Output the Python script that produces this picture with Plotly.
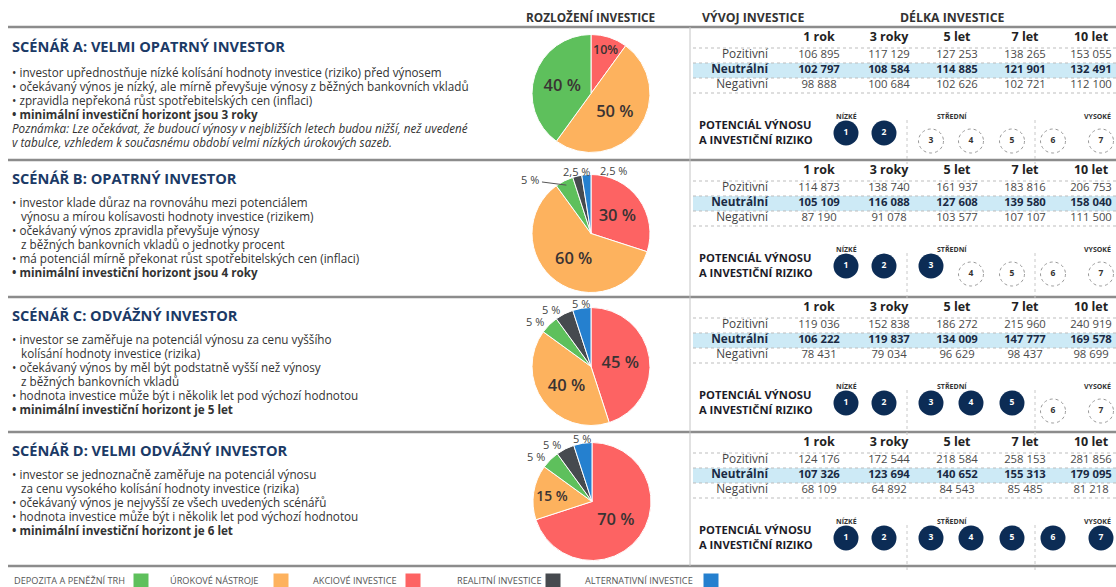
import math
import plotly.graph_objects as go

W, H = 1116, 587

# ------------------------------------------------------------------ data
asset_classes = ["DEPOZITA A PENĚŽNÍ TRH", "ÚROKOVÉ NÁSTROJE", "AKCIOVÉ INVESTICE",
                 "REALITNÍ INVESTICE", "ALTERNATIVNÍ INVESTICE"]
asset_colors = ["#5ec05c", "#fdb25e", "#fd6363", "#464a4f", "#2580cf"]
# slice order clockwise from 12 o'clock: akciové, úrokové, depozita, realitní, alternativní
pie_order = [2, 1, 0, 3, 4]

alloc_A = [40, 50, 10, 0, 0]
alloc_B = [5, 60, 30, 2.5, 2.5]
alloc_C = [5, 40, 45, 5, 5]
alloc_D = [5, 15, 70, 5, 5]

scenario_titles = ["SCÉNÁŘ A: VELMI OPATRNÝ INVESTOR", "SCÉNÁŘ B: OPATRNÝ INVESTOR",
                   "SCÉNÁŘ C: ODVÁŽNÝ INVESTOR", "SCÉNÁŘ D: VELMI ODVÁŽNÝ INVESTOR"]

bullets_A = ["• investor upřednostňuje nízké kolísání hodnoty investice (riziko) před výnosem",
             "• očekávaný výnos je nízký, ale mírně převyšuje výnosy z běžných bankovních vkladů",
             "• zpravidla nepřekoná růst spotřebitelských cen (inflaci)",
             "<b>• minimální investiční horizont jsou 3 roky</b>",
             "<i>Poznámka: Lze očekávat, že budoucí výnosy v nejbližších letech budou nižší, než uvedené</i>",
             "<i>v tabulce, vzhledem k současnému období velmi nízkých úrokových sazeb.</i>"]
bullets_B = ["• investor klade důraz na rovnováhu mezi potenciálem",
             "   výnosu a mírou kolísavosti hodnoty investice (rizikem)",
             "• očekávaný výnos zpravidla převyšuje výnosy",
             "   z běžných bankovních vkladů o jednotky procent",
             "• má potenciál mírně překonat růst spotřebitelských cen (inflaci)",
             "<b>• minimální investiční horizont jsou 4 roky</b>"]
bullets_C = ["• investor se zaměřuje na potenciál výnosu za cenu vyššího",
             "   kolísání hodnoty investice (rizika)",
             "• očekávaný výnos by měl být podstatně vyšší než výnosy",
             "   z běžných bankovních vkladů",
             "• hodnota investice může být i několik let pod výchozí hodnotou",
             "<b>• minimální investiční horizont je 5 let</b>"]
bullets_D = ["• investor se jednoznačně zaměřuje na potenciál výnosu",
             "   za cenu vysokého kolísání hodnoty investice (rizika)",
             "• očekávaný výnos je nejvyšší ze všech uvedených scénářů",
             "• hodnota investice může být i několik let pod výchozí hodnotou",
             "<b>• minimální investiční horizont je 6 let</b>"]

durations = ["1 rok", "3 roky", "5 let", "7 let", "10 let"]
row_labels = ["Pozitivní", "Neutrální", "Negativní"]

pos_A = [106895, 117129, 127253, 138265, 153055]
neu_A = [102797, 108584, 114885, 121901, 132491]
neg_A = [98888, 100684, 102626, 102721, 112100]
pos_B = [114873, 138740, 161937, 183816, 206753]
neu_B = [105109, 116088, 127608, 139580, 158040]
neg_B = [87190, 91078, 103577, 107107, 111500]
pos_C = [119036, 152838, 186272, 215960, 240919]
neu_C = [106222, 119837, 134009, 147777, 169578]
neg_C = [78431, 79034, 96629, 98437, 98699]
pos_D = [124176, 172544, 218584, 258153, 281856]
neu_D = [107326, 123694, 140652, 155313, 179095]
neg_D = [68109, 64892, 84543, 85485, 81218]

risk_scale = [1, 2, 3, 4, 5, 6, 7]
risk_groups = ["NÍZKÉ", "STŘEDNÍ", "VYSOKÉ"]
risk_A, risk_B, risk_C, risk_D = 2, 3, 5, 7

header_left = "ROZLOŽENÍ INVESTICE"
header_mid = "VÝVOJ INVESTICE"
header_right = "DÉLKA INVESTICE"
risk_label = "POTENCIÁL VÝNOSU<br>A INVESTIČNÍ RIZIKO"

# ------------------------------------------------------------------ layout positions (px)
sec_tops = [27, 160, 297, 432]
sec_bottom = 566
title_y = [46, 178, 315, 450]
bullet_y0 = [72, 202, 339, 474]
bullet_dy = 13.9
pie_centers = [(591, 93.5), (591, 233.5), (591, 366.5), (592, 501.5)]
pie_d = 118
col_x = [819, 889, 957, 1025, 1091]
risk_x = [846, 884, 931, 971, 1012, 1053, 1101]
group_x = [846, 952, 1113]
group_sep_x = [907, 1035]
# nudges for small outside pie labels: (scenario, slice position) -> (dx, dy, anchor)
label_nudge = {(1, 2): (-21, 3.5, "right"), (1, 4): (12, 1, "left")}
leader_lines = {(1, 2)}

NAVY = "#1b3a66"
DARK = "#0c2c55"
TXT = "#333333"
FONT = "Open Sans"

scen_alloc = [alloc_A, alloc_B, alloc_C, alloc_D]
scen_bullets = [bullets_A, bullets_B, bullets_C, bullets_D]
scen_table = [(pos_A, neu_A, neg_A), (pos_B, neu_B, neg_B),
              (pos_C, neu_C, neg_C), (pos_D, neu_D, neg_D)]
scen_risk = [risk_A, risk_B, risk_C, risk_D]


def fmt_num(v):
    return f"{v:,}".replace(",", "\u00a0")


def fmt_pct(v):
    return f"{v:g}".replace(".", ",") + "\u00a0%"


fig = go.Figure()
shapes = []
annotations = []

# header texts
annotations += [
    dict(x=590, y=17, text=f"<b>{header_left}</b>", xanchor="center", font=dict(size=11.8, color=TXT)),
    dict(x=700, y=17, text=f"<b>{header_mid}</b>", xanchor="left", font=dict(size=12.3, color=TXT)),
    dict(x=952, y=17, text=f"<b>{header_right}</b>", xanchor="center", font=dict(size=12.3, color=TXT)),
]

# separators
for y in sec_tops + [sec_bottom]:
    shapes.append(dict(type="line", x0=8, x1=W, y0=y, y1=y, line=dict(color="#8c8c8c", width=2.5)))
shapes.append(dict(type="line", x0=690, x1=690, y0=sec_tops[0], y1=sec_bottom,
                   line=dict(color="#c4c4c4", width=1)))

for i in range(4):
    top = sec_tops[i]
    nxt = sec_tops[i + 1] if i < 3 else sec_bottom
    # title + bullets
    annotations.append(dict(x=10, y=title_y[i], text=f"<b>{scenario_titles[i]}</b>", xanchor="left",
                            font=dict(size=14.6, color=NAVY)))
    for k, line in enumerate(scen_bullets[i]):
        annotations.append(dict(x=10, y=bullet_y0[i] + k * bullet_dy, text=line, xanchor="left",
                                font=dict(size=11.7, color=TXT)))

    # pie
    alloc = scen_alloc[i]
    vals = [alloc[j] for j in pie_order if alloc[j] > 0]
    cols = [asset_colors[j] for j in pie_order if alloc[j] > 0]
    labs = [asset_classes[j] for j in pie_order if alloc[j] > 0]
    cx, cy = pie_centers[i]
    big = [v > 10 for v in vals]
    fig.add_trace(go.Pie(
        values=vals, labels=labs, text=[fmt_pct(v) if b else "" for v, b in zip(vals, big)],
        texttemplate="%{text}", textinfo="text", sort=False, direction="clockwise", rotation=0,
        marker=dict(colors=cols, line=dict(color="white", width=1)),
        textposition=["inside" if b else "none" for b in big],
        insidetextorientation="horizontal",
        textfont=dict(size=16.5, color="#3a3333", family=FONT, weight=600),
        showlegend=False, hoverinfo="skip",
        domain=dict(x=[(cx - pie_d / 2) / W, (cx + pie_d / 2) / W],
                    y=[1 - (cy + pie_d / 2) / H, 1 - (cy - pie_d / 2) / H]),
    ))
    # labels of the small slices, placed from each slice's mid-angle
    total = sum(vals)
    cum = 0
    r = pie_d / 2
    for p, v in enumerate(vals):
        theta = 2 * math.pi * (cum + v / 2) / total
        cum += v
        if v > 10:
            continue
        if v == 10:
            R = r * 0.78
            annotations.append(dict(x=cx + R * math.sin(theta), y=cy - R * math.cos(theta),
                                    text=fmt_pct(v).replace("\u00a0", ""), xanchor="center",
                                    font=dict(size=12.5, color="#3a3333", weight=600)))
            continue
        R = r + 5
        lx = cx + R * math.sin(theta)
        ly = cy - R * math.cos(theta)
        anchor = "right" if math.sin(theta) < -0.3 else "center"
        dx, dy, anchor = label_nudge.get((i, p), (0, 0, anchor))
        annotations.append(dict(x=lx + dx, y=ly + dy, text=fmt_pct(v), xanchor=anchor,
                                font=dict(size=11, color="#444")))
        if (i, p) in leader_lines:
            R2 = r * 0.92
            shapes.append(dict(type="line", x0=lx + dx + 1, y0=ly + dy + 2,
                               x1=cx + R2 * math.sin(theta), y1=cy - R2 * math.cos(theta),
                               line=dict(color="#555", width=1)))

    # table
    shapes.append(dict(type="rect", x0=693, x1=W, y0=top + 36, y1=top + 51,
                       fillcolor="#cdeaf6", line=dict(width=0), layer="below"))
    for dy in (21, 36, 51, 66):
        shapes.append(dict(type="line", x0=693, x1=W, y0=top + dy, y1=top + dy,
                           line=dict(color="#bdbdbd", width=1, dash="dot")))
    fig.add_trace(go.Scatter(x=col_x, y=[top + 11] * 5, mode="text", text=[f"<b>{d}</b>" for d in durations],
                             textfont=dict(size=12.5, color="#222", family=FONT), hoverinfo="skip",
                             showlegend=False))
    row_y = [top + 28.5, top + 43.5, top + 58.5]
    fig.add_trace(go.Scatter(x=[768] * 3, y=row_y, mode="text",
                             text=[row_labels[0], f"<b>{row_labels[1]}</b>", row_labels[2]],
                             textposition="middle left",
                             textfont=dict(size=11.8, color=["#444", "#1a2a44", "#444"], family=FONT),
                             hoverinfo="skip", showlegend=False))
    for rr, series in enumerate(scen_table[i]):
        bold = rr == 1
        fig.add_trace(go.Scatter(
            x=col_x, y=[row_y[rr]] * 5, mode="text",
            text=[(f"<b>{fmt_num(v)}</b>" if bold else fmt_num(v)) for v in series],
            textfont=dict(size=11.3, color="#1a2a44" if bold else "#4a4a4a", family=FONT),
            hoverinfo="skip", showlegend=False))

    # risk row
    annotations.append(dict(x=697, y=top + 105, text=f"<b>{risk_label}</b>", xanchor="left", align="left",
                            font=dict(size=11.2, color="#1c1c28")))
    for g, gx in zip(risk_groups, group_x):
        annotations.append(dict(x=gx, y=top + 89, text=f"<b>{g}</b>",
                                xanchor="right" if g == risk_groups[-1] else "center",
                                font=dict(size=7, color="#333")))
    for sx in group_sep_x:
        shapes.append(dict(type="line", x0=sx, x1=sx, y0=top + 93, y1=nxt + 4,
                           line=dict(color="#c8c8c8", width=1, dash="dot")))
    lvl = scen_risk[i]
    filled = [s for s in risk_scale if s <= lvl]
    empty = [s for s in risk_scale if s > lvl]
    fy = top + 106
    ey = top + 114
    if filled:
        fig.add_trace(go.Scatter(
            x=[risk_x[s - 1] for s in filled], y=[fy] * len(filled), mode="markers+text",
            text=[f"<b>{s}</b>" for s in filled], textposition="middle center",
            marker=dict(size=25, color=DARK, line=dict(width=0)),
            textfont=dict(size=8.5, color="white", family=FONT), hoverinfo="skip", showlegend=False))
    if empty:
        for s in empty:
            ex = risk_x[s - 1]
            shapes.append(dict(type="circle", x0=ex - 12.5, x1=ex + 12.5, y0=ey - 12, y1=ey + 12,
                               fillcolor="white", layer="below",
                               line=dict(color="#9a9a9a", width=1, dash="dot")))
        fig.add_trace(go.Scatter(
            x=[risk_x[s - 1] for s in empty], y=[ey] * len(empty), mode="text",
            text=[f"<b>{s}</b>" for s in empty], textposition="middle center",
            textfont=dict(size=8.5, color="#333", family=FONT), hoverinfo="skip", showlegend=False))

# bottom legend
leg_text_x = [12, 168, 311, 455, 583]
leg_box_x = [141, 281, 413, 553, 711]
leg_y = 580
for name, tx in zip(asset_classes, leg_text_x):
    annotations.append(dict(x=tx, y=leg_y, text=name, xanchor="left", font=dict(size=9.2, color="#555")))
fig.add_trace(go.Scatter(x=leg_box_x, y=[leg_y + 1] * 5, mode="markers",
                         marker=dict(symbol="square", size=15, color=asset_colors, line=dict(width=0)),
                         hoverinfo="skip", showlegend=False))

for a in annotations:
    a.update(xref="x", yref="y", showarrow=False, yanchor="middle")
    a["font"].setdefault("family", FONT)

fig.update_layout(
    width=W, height=H, margin=dict(l=0, r=0, t=0, b=0),
    paper_bgcolor="white", plot_bgcolor="white",
    font=dict(family=FONT, color=TXT),
    xaxis=dict(range=[0, W], visible=False, fixedrange=True, domain=[0, 1]),
    yaxis=dict(range=[H, 0], visible=False, fixedrange=True, domain=[0, 1]),
    shapes=shapes, annotations=annotations, showlegend=False,
)

fig.write_html("out.html", config={"displayModeBar": False},
               post_script="document.body.style.margin='0';document.body.style.overflow='hidden';"
                           "document.documentElement.style.overflow='hidden';")
